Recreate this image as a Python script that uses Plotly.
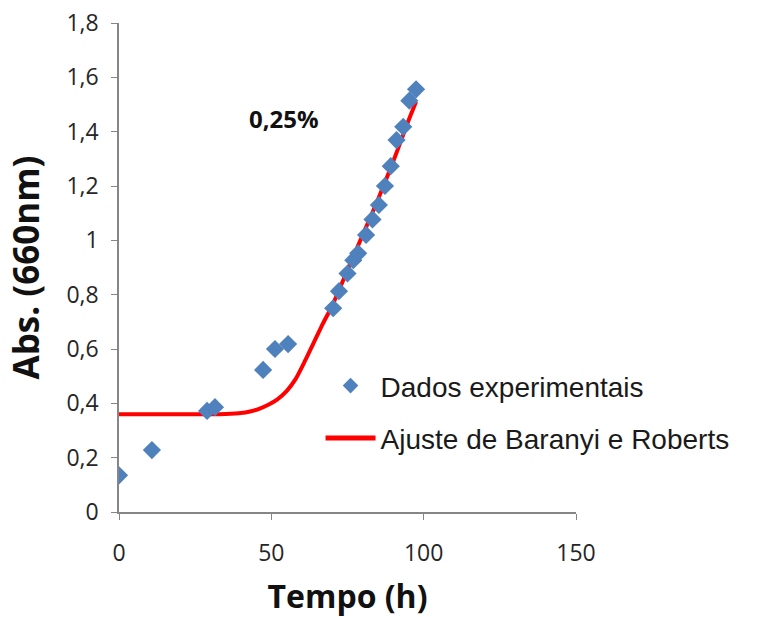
import plotly.graph_objects as go

# Experimental data (Tempo h, Abs 660nm)
exp_t = [0, 10.8, 28.9, 31.5, 47.3, 51.2, 55.5, 70.3, 72.2, 75.0, 76.9, 78.5,
         81.1, 83.2, 85.3, 87.3, 89.2, 91.1, 93.3, 95.3, 97.5]
exp_abs = [0.135, 0.228, 0.372, 0.386, 0.523, 0.600, 0.618, 0.750, 0.813, 0.878, 0.927, 0.952,
           1.020, 1.077, 1.130, 1.200, 1.273, 1.369, 1.418, 1.514, 1.556]

# Baranyi & Roberts fit curve
fit_t = [0, 10, 20, 30, 35, 40, 43, 46, 49, 52, 55, 58, 61, 64, 67, 70, 75, 80, 85, 90, 95, 97.5]
fit_abs = [0.36, 0.36, 0.36, 0.36, 0.361, 0.364, 0.370, 0.380, 0.395, 0.415, 0.445, 0.49,
           0.555, 0.625, 0.695, 0.76, 0.89, 1.02, 1.15, 1.29, 1.44, 1.51]

x_ticks = [0, 50, 100, 150]
y_ticks = [0, 0.2, 0.4, 0.6, 0.8, 1.0, 1.2, 1.4, 1.6, 1.8]
y_ticktext = ["0", "0,2", "0,4", "0,6", "0,8", "1", "1,2", "1,4", "1,6", "1,8"]

fig = go.Figure()
fig.add_trace(go.Scatter(
    x=fit_t, y=fit_abs, mode="lines", name="Ajuste de Baranyi e Roberts",
    line=dict(color="#FF0000", width=4, shape="spline", smoothing=0.6),
    legendrank=2, legendgroup="b"))
fig.add_trace(go.Scatter(
    x=exp_t, y=exp_abs, mode="markers", name="Dados experimentais",
    marker=dict(symbol="diamond", size=14, color="#4F81BD"), legendrank=1, legendgroup="a"))

axis_font = dict(family="Open Sans", size=23, color="#262626")
fig.update_layout(
    width=759, height=617,
    margin=dict(l=119, r=183, t=23, b=105),
    plot_bgcolor="white", paper_bgcolor="white",
    showlegend=True,
    legend=dict(x=0.441, y=0.309, xanchor="left", yanchor="top",
                font=dict(family="Liberation Sans", size=28, color="#1a1a1a"),
                itemwidth=50, itemsizing="constant", tracegroupgap=13,
                bgcolor="rgba(0,0,0,0)"),
    xaxis=dict(range=[0, 150], tickvals=x_ticks, showline=True, linecolor="#868686",
               linewidth=1.5, ticks="outside", ticklen=6, tickcolor="#868686",
               showgrid=False, zeroline=False, tickfont=axis_font, ticklabelstandoff=14,
               automargin=False,
               title=dict(text="Tempo (h)", font=dict(family="Open Sans", size=32,
                                                      color="#111", weight="bold"),
                          standoff=21)),
    yaxis=dict(range=[0, 1.8], tickvals=y_ticks, ticktext=y_ticktext, showline=True,
               linecolor="#868686", linewidth=1.5, ticks="outside", ticklen=6,
               tickcolor="#868686", showgrid=False, zeroline=False, tickfont=axis_font,
               ticklabelstandoff=8, automargin=False,
               title=dict(text="Abs. (660nm)", font=dict(family="Open Sans", size=35,
                                                         color="#111", weight="bold"),
                          standoff=16)),
    annotations=[dict(x=54, y=1.45, xref="x", yref="y", text="0,25%", showarrow=False,
                      font=dict(family="Open Sans", size=24, color="#111", weight="bold"))],
)

fig.write_html("out.html")
